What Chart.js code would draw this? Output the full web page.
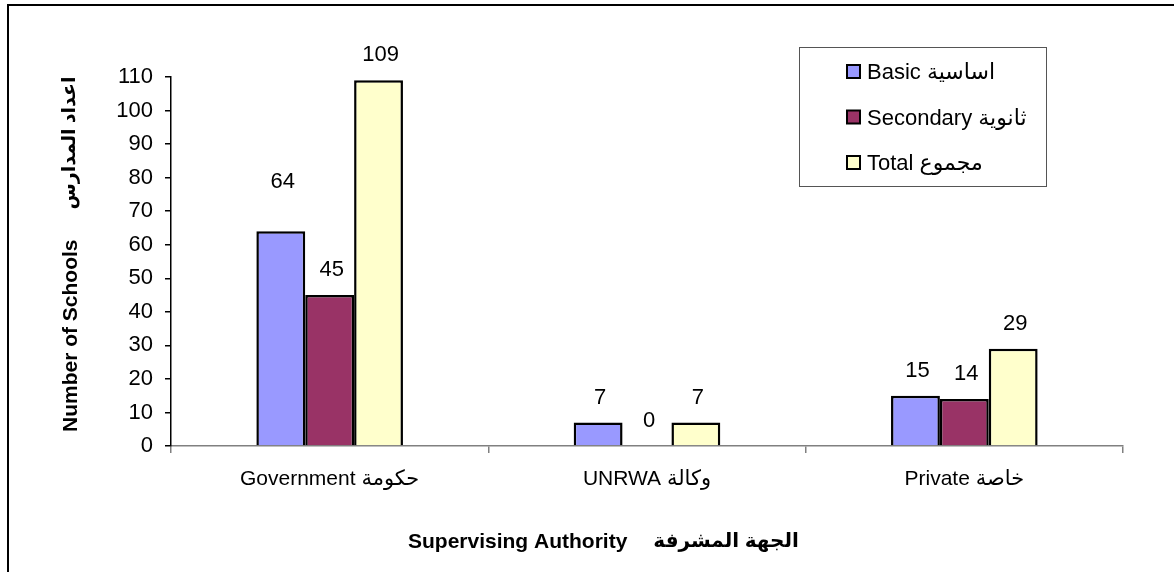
<!DOCTYPE html>
<html>
<head>
<meta charset="utf-8">
<script src="https://cdn.jsdelivr.net/npm/chart.js@4.4.1/dist/chart.umd.min.js"></script>
<style>
  body { margin: 0; background: #fff; }
  #wrap { width: 1174px; height: 572px; position: relative; }
</style>
</head>
<body>
<div id="wrap"><canvas id="schoolsChart" width="1174" height="572"></canvas></div>
<script>
const authorities = ['Government حكومة', 'UNRWA وكالة', 'Private خاصة'];
const basicSchools = [64, 7, 15];
const secondarySchools = [45, 0, 14];
const totalSchools = [109, 7, 29];
const seriesNames = ['Basic اساسية', 'Secondary ثانوية', 'Total مجموع'];
const seriesColors = ['#9999FF', '#993366', '#FFFFCC'];

const FONT = '"Liberation Sans", Arial, "DejaVu Sans", sans-serif';

// frame round the whole picture
const framePlugin = {
    id: 'frame',
    beforeDraw(chart) {
        const ctx = chart.ctx;
        ctx.save();
        ctx.fillStyle = '#fff';
        ctx.fillRect(0, 0, chart.width, chart.height);
        ctx.strokeStyle = '#000';
        ctx.lineWidth = 2;
        ctx.strokeRect(8, 5, 3000, 3000);
        ctx.restore();
    }
};

// value labels above each bar
const valueLabels = {
    id: 'valueLabels',
    afterDatasetsDraw(chart) {
        const ctx = chart.ctx;
        ctx.save();
        ctx.font = '22px ' + FONT;
        ctx.fillStyle = '#000';
        ctx.textAlign = 'center';
        ctx.textBaseline = 'middle';
        chart.data.datasets.forEach((ds, i) => {
            chart.getDatasetMeta(i).data.forEach((bar, j) => {
                let lift = 25;
                if (i === 0 && j === 0) lift = 49; // label sits higher in the original
                ctx.fillText(String(ds.data[j]), bar.x + 2, bar.y - lift);
            });
        });
        ctx.restore();
    }
};

// boxed legend inside the plot and the two axis titles
const extras = {
    id: 'extras',
    afterDraw(chart) {
        const ctx = chart.ctx;
        const area = chart.chartArea;
        ctx.save();

        // legend
        const lx = 799, ly = 47, lw = 247, lh = 139;
        ctx.strokeStyle = '#555';
        ctx.lineWidth = 1;
        ctx.strokeRect(lx + 0.5, ly + 0.5, lw, lh);
        ctx.font = '22px ' + FONT;
        ctx.textBaseline = 'middle';
        ctx.textAlign = 'left';
        chart.data.datasets.forEach((ds, i) => {
            const cy = 72 + i * 45.5;
            ctx.fillStyle = ds.backgroundColor;
            ctx.fillRect(847, cy - 7, 13, 13);
            ctx.strokeStyle = '#000';
            ctx.lineWidth = 2;
            ctx.strokeRect(847, cy - 7, 13, 13);
            ctx.fillStyle = '#000';
            ctx.fillText(ds.label, 867, cy + 1);
        });

        // y title, rotated
        ctx.translate(71, 432);
        ctx.rotate(-Math.PI / 2);
        ctx.font = 'bold 21px ' + FONT;
        ctx.textAlign = 'left';
        ctx.fillText('Number of Schools', 0, 0);
        const w = ctx.measureText('Number of Schools').width;
        ctx.font = 'bold 19px ' + FONT;
        ctx.fillText('اعداد المدارس', w + 30, -1);
        ctx.setTransform(1, 0, 0, 1, 0, 0);

        // x title
        ctx.font = 'bold 21px ' + FONT;
        ctx.textAlign = 'left';
        const xStart = area.left + 237;
        ctx.fillText('Supervising Authority', xStart, 542);
        const w2 = ctx.measureText('Supervising Authority').width;
        ctx.font = 'bold 20px ' + FONT;
        ctx.fillText('الجهة المشرفة', xStart + w2 + 26, 541);
        ctx.restore();
    }
};

const ctx = document.getElementById('schoolsChart');
new Chart(ctx, {
    type: 'bar',
    data: {
        labels: authorities,
        datasets: [
            { label: seriesNames[0], data: basicSchools, backgroundColor: seriesColors[0] },
            { label: seriesNames[1], data: secondarySchools, backgroundColor: seriesColors[1] },
            { label: seriesNames[2], data: totalSchools, backgroundColor: seriesColors[2] }
        ]
    },
    options: {
        responsive: false,
        animation: false,
        devicePixelRatio: 1,
        layout: { padding: { left: 0, top: 77, right: 51, bottom: 0 } },
        datasets: {
            bar: {
                borderColor: '#000',
                borderWidth: 2.5,
                barPercentage: 1,
                categoryPercentage: 0.462
            }
        },
        plugins: {
            legend: { display: false },
            tooltip: { enabled: false }
        },
        scales: {
            x: {
                afterFit(scale) { scale.height = 126; },
                grid: { drawOnChartArea: false, drawTicks: true, tickLength: 7, color: '#808080', lineWidth: 1.5 },
                border: { color: '#808080', width: 1.5 },
                ticks: { color: '#000', font: { family: FONT, size: 21 }, padding: 14 }
            },
            y: {
                min: 0,
                max: 110,
                afterFit(scale) { scale.width = 171; },
                grid: { drawOnChartArea: false, drawTicks: true, tickLength: 6, color: '#000', lineWidth: 1.5 },
                border: { color: '#000', width: 1.5 },
                ticks: { stepSize: 10, color: '#000', font: { family: FONT, size: 22 }, padding: 12 }
            }
        }
    },
    plugins: [framePlugin, valueLabels, extras]
});
</script>
</body>
</html>
